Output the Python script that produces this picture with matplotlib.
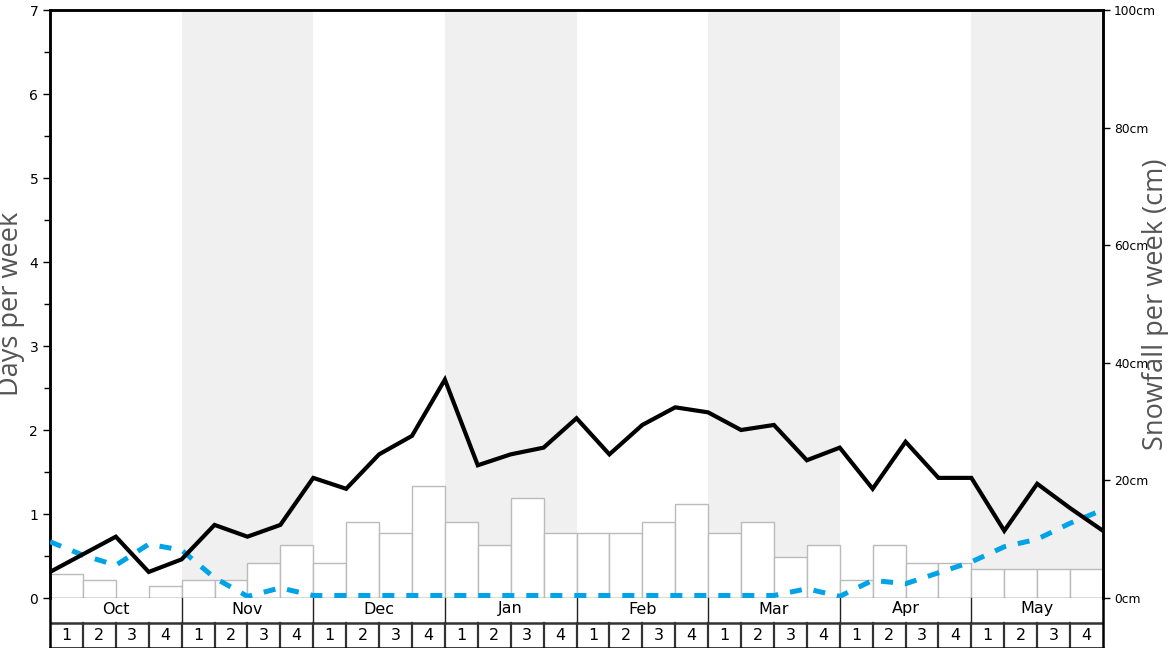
import numpy as np
import matplotlib.pyplot as plt

# DATA
months = ['Oct', 'Nov', 'Dec', 'Jan', 'Feb', 'Mar', 'Apr', 'May']
week_labels = ['1', '2', '3', '4']

# weekly snowfall (cm), one bar per week
snowfall_cm = [4, 3, 0, 2, 3, 3, 6, 9, 6, 13, 11, 19, 13, 9, 17, 11,
               11, 11, 13, 16, 11, 13, 7, 9, 3, 9, 6, 6, 5, 5, 5, 5]

# days per week, values at week boundaries (33 points)
snow_days = [0.31, 0.52, 0.73, 0.31, 0.46, 0.87, 0.73, 0.87, 1.43, 1.30, 1.71,
             1.93, 2.60, 1.58, 1.71, 1.79, 2.14, 1.71, 2.06, 2.27, 2.21, 2.00,
             2.06, 1.64, 1.79, 1.30, 1.86, 1.43, 1.43, 0.80, 1.36, 1.07, 0.80]
other_days = [0.67, 0.51, 0.39, 0.64, 0.57, 0.24, 0.02, 0.12, 0.03, 0.03, 0.03,
              0.03, 0.03, 0.03, 0.03, 0.03, 0.03, 0.03, 0.03, 0.03, 0.03, 0.03,
              0.03, 0.11, 0.02, 0.21, 0.17, 0.30, 0.43, 0.61, 0.70, 0.89, 1.05]

n_weeks = len(snowfall_cm)
label_font = ['Open Sans', 'DejaVu Sans']
grey_text = '#555555'

fig = plt.figure(figsize=(11.68, 6.48), dpi=100)
L, W = 50 / 1168, 1053 / 1168
ax = fig.add_axes([L, 50 / 648, W, 588 / 648])
ax2 = ax.twinx()
ax.set_zorder(ax2.get_zorder() + 1)
ax.patch.set_visible(False)

# BACKGROUND SHADING (alternate months)
for m in range(len(months)):
    if m % 2 == 1:
        ax2.axvspan(m * 4, m * 4 + 4, color='#f0f0f0', lw=0, zorder=0)

# SNOWFALL BARS (right axis)
ax2.bar(np.arange(n_weeks) + 0.5, snowfall_cm, width=1.0, color='white',
        edgecolor='#bbbbbb', linewidth=1, zorder=2)
ax2.set_ylim(0, 100)
ax2.set_yticks(range(0, 101, 20))
ax2.set_yticklabels([f'{v}cm' for v in range(0, 101, 20)], fontsize=8.8)
ax2.tick_params(axis='y', length=5, width=1, pad=3)
ax2.set_ylabel('Snowfall per week (cm)', fontsize=19.5, color=grey_text,
               family=label_font, va='center')
ax2.yaxis.set_label_coords(1.0507, 0.5)

# DAYS LINES (left axis)
xs = np.arange(n_weeks + 1)
ax.plot(xs, other_days, color='#00a3e8', lw=3.6, linestyle=(0, (2.4, 2.4)),
        zorder=3)
ax.plot(xs, snow_days, color='black', lw=3.0, zorder=4, solid_joinstyle='miter')
ax.axhline(0, color='#777777', lw=1, zorder=2)
ax.set_ylim(0, 7)
ax.set_xlim(0, n_weeks)
ax.set_yticks(range(0, 8))
ax.set_yticks(np.arange(0.5, 7, 1), minor=True)
ax.tick_params(axis='y', which='major', length=5, width=1, labelsize=10)
ax.tick_params(axis='y', which='minor', length=4, width=1)
ax.set_xticks([])
ax.set_ylabel('Days per week', fontsize=19.5, color=grey_text,
              family=label_font, va='center')
ax.yaxis.set_label_coords(-0.037, 0.5)

for a in (ax, ax2):
    a.spines['bottom'].set_visible(False)
    for s in ('left', 'right', 'top'):
        a.spines[s].set_linewidth(1.8)
        a.spines[s].set_color('black')

# MONTH / WEEK TABLE UNDER THE CHART
tab = fig.add_axes([L, 0, W, 50 / 648])
tab.set_xlim(0, n_weeks)
tab.set_ylim(0, 1)
tab.set_xticks([])
tab.set_yticks([])
tab.patch.set_alpha(0)
tab.spines['top'].set_visible(False)
for s in ('left', 'right', 'bottom'):
    tab.spines[s].set_linewidth(1.8)
    tab.spines[s].set_color('black')

sep = 0.506
tab.axhline(sep, color='#333333', lw=1.8)
for m, name in enumerate(months):
    if m > 0:
        tab.plot([m * 4, m * 4], [sep, 1], color='#222222', lw=1)
    tab.text(m * 4 + 2, 0.78, name, ha='center', va='center', fontsize=11.5)
    for w, wl in enumerate(week_labels):
        i = m * 4 + w
        if i > 0:
            tab.plot([i, i], [0, sep], color='#333333', lw=1.6)
        tab.text(i + 0.5, 0.25, wl, ha='center', va='center', fontsize=11.5)

fig.savefig('out.png', dpi=100)
